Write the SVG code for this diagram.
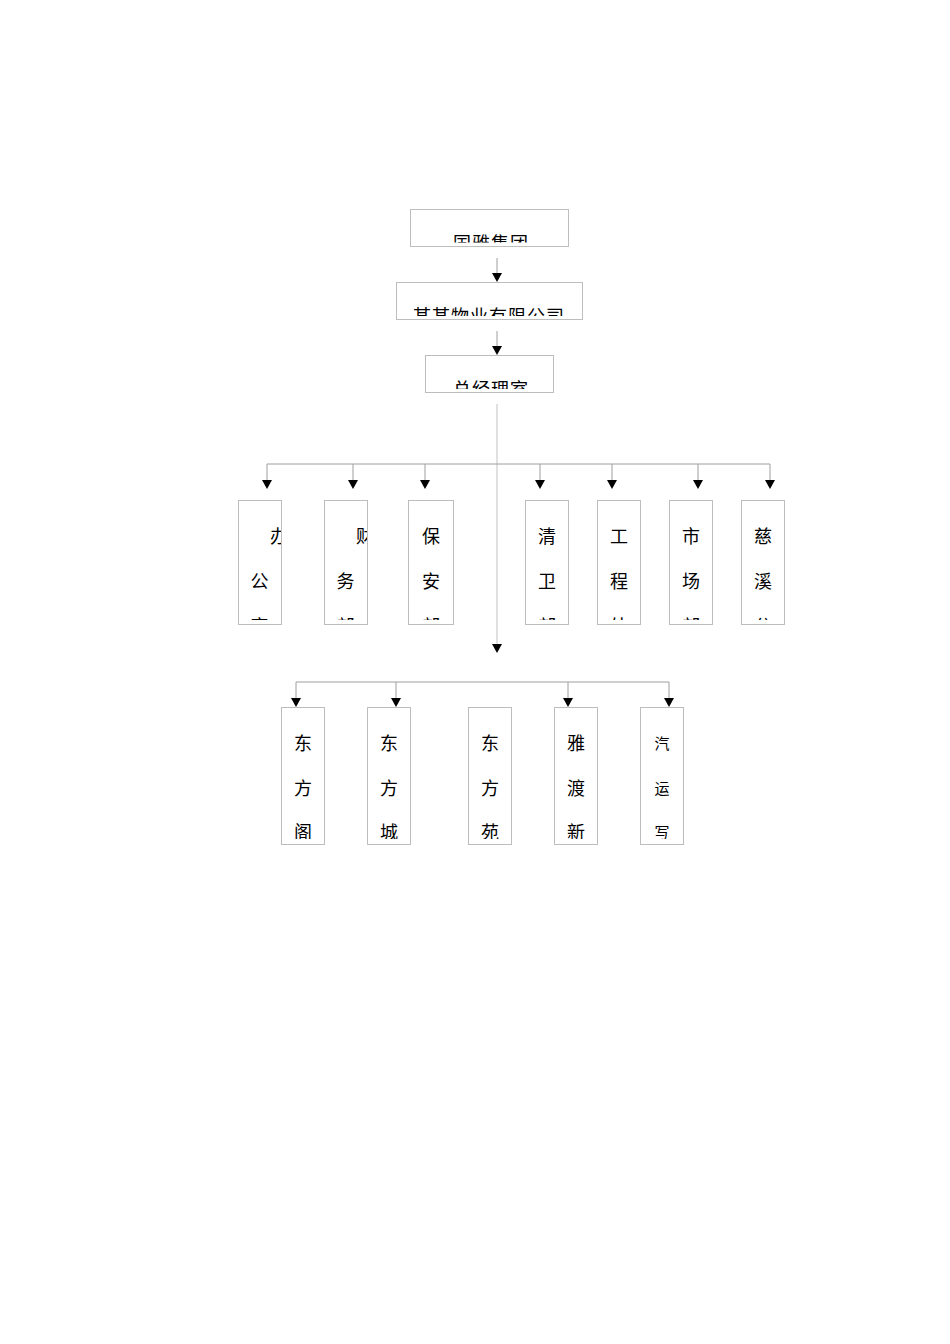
<svg xmlns="http://www.w3.org/2000/svg" width="950" height="1344" viewBox="0 0 950 1344">
<style>
.box{fill:#fff;stroke:#bdbdbd;stroke-width:1}
.t{font-family:"Noto Sans CJK SC","Liberation Sans",sans-serif;font-size:18px;fill:#000}
.h{letter-spacing:1px}
.v{text-anchor:middle}
.s{font-size:15px}
.conn{fill:none;stroke:#9e9e9e;stroke-width:1}
.main{fill:none;stroke:#d6d6d6;stroke-width:1.5}
</style>
<defs>
<path id="tri" d="M-5,-9 L5,-9 L0,0 Z" fill="#000"/>
<clipPath id="c1"><rect x="410" y="209" width="159" height="33.5"/></clipPath>
<clipPath id="c2"><rect x="396" y="282" width="187" height="34"/></clipPath>
<clipPath id="c3"><rect x="425" y="355" width="129" height="34"/></clipPath>
<clipPath id="cv1"><rect x="238" y="500" width="43" height="120"/></clipPath>
<clipPath id="cv2"><rect x="324" y="500" width="43" height="120"/></clipPath>
<clipPath id="cv3"><rect x="408" y="500" width="45" height="120"/></clipPath>
<clipPath id="cv4"><rect x="525" y="500" width="43" height="120"/></clipPath>
<clipPath id="cv5"><rect x="597" y="500" width="43" height="120"/></clipPath>
<clipPath id="cv6"><rect x="669" y="500" width="43" height="120"/></clipPath>
<clipPath id="cv7"><rect x="741" y="500" width="43" height="120"/></clipPath>
<clipPath id="cb"><rect x="0" y="707" width="950" height="132"/></clipPath>
</defs>
<rect width="950" height="1344" fill="#fff"/>

<g id="connectors">
<line class="conn" x1="497" y1="258" x2="497" y2="273"/>
<use href="#tri" x="497" y="282"/>
<line class="conn" x1="497" y1="331" x2="497" y2="346"/>
<use href="#tri" x="497" y="355"/>
<line class="main" x1="497" y1="404" x2="497" y2="644"/>
<use href="#tri" x="497" y="653"/>
<line class="conn" x1="267" y1="464" x2="770" y2="464"/>
<line class="conn" x1="267" y1="464" x2="267" y2="481"/><use href="#tri" x="267" y="489"/>
<line class="conn" x1="353" y1="464" x2="353" y2="481"/><use href="#tri" x="353" y="489"/>
<line class="conn" x1="425" y1="464" x2="425" y2="481"/><use href="#tri" x="425" y="489"/>
<line class="conn" x1="540" y1="464" x2="540" y2="481"/><use href="#tri" x="540" y="489"/>
<line class="conn" x1="612" y1="464" x2="612" y2="481"/><use href="#tri" x="612" y="489"/>
<line class="conn" x1="698" y1="464" x2="698" y2="481"/><use href="#tri" x="698" y="489"/>
<line class="conn" x1="770" y1="464" x2="770" y2="481"/><use href="#tri" x="770" y="489"/>
<line class="conn" x1="296" y1="682" x2="669" y2="682"/>
<line class="conn" x1="296" y1="682" x2="296" y2="699"/><use href="#tri" x="296" y="707"/>
<line class="conn" x1="396" y1="682" x2="396" y2="699"/><use href="#tri" x="396" y="707"/>
<line class="conn" x1="568" y1="682" x2="568" y2="699"/><use href="#tri" x="568" y="707"/>
<line class="conn" x1="669" y1="682" x2="669" y2="699"/><use href="#tri" x="669" y="707"/>
</g>

<g id="n-group">
<rect class="box" x="410.5" y="209.5" width="158" height="37"/>
<text class="t h" x="453" y="250" clip-path="url(#c1)">国雅集团</text>
</g>
<g id="n-company">
<rect class="box" x="396.5" y="282.5" width="186" height="37"/>
<text class="t h" x="413" y="323" clip-path="url(#c2)">某某物业有限公司</text>
</g>
<g id="n-gm">
<rect class="box" x="425.5" y="355.5" width="128" height="37"/>
<text class="t h" x="453" y="396" clip-path="url(#c3)">总经理室</text>
</g>

<g id="n-office">
<rect class="box" x="238.5" y="500.5" width="43" height="124"/>
<g class="t v" clip-path="url(#cv1)"><text x="279" y="543">办</text><text x="259.5" y="588">公</text><text x="259.5" y="633">室</text></g>
</g>
<g id="n-finance">
<rect class="box" x="324.5" y="500.5" width="43" height="124"/>
<g class="t v" clip-path="url(#cv2)"><text x="365" y="543">财</text><text x="345.5" y="588">务</text><text x="345.5" y="633">部</text></g>
</g>
<g id="n-security">
<rect class="box" x="408.5" y="500.5" width="45" height="124"/>
<g class="t v" clip-path="url(#cv3)"><text x="431" y="543">保</text><text x="431" y="588">安</text><text x="431" y="633">部</text></g>
</g>
<g id="n-cleaning">
<rect class="box" x="525.5" y="500.5" width="43" height="124"/>
<g class="t v" clip-path="url(#cv4)"><text x="547" y="543">清</text><text x="547" y="588">卫</text><text x="547" y="633">部</text></g>
</g>
<g id="n-engineering">
<rect class="box" x="597.5" y="500.5" width="43" height="124"/>
<g class="t v" clip-path="url(#cv5)"><text x="619" y="543">工</text><text x="619" y="588">程</text><text x="619" y="633">处</text></g>
</g>
<g id="n-market">
<rect class="box" x="669.5" y="500.5" width="43" height="124"/>
<g class="t v" clip-path="url(#cv6)"><text x="691" y="543">市</text><text x="691" y="588">场</text><text x="691" y="633">部</text></g>
</g>
<g id="n-cixi">
<rect class="box" x="741.5" y="500.5" width="43" height="124"/>
<g class="t v" clip-path="url(#cv7)"><text x="763" y="543">慈</text><text x="763" y="588">溪</text><text x="763" y="633">分</text></g>
</g>

<g id="n-dfg">
<rect class="box" x="281.5" y="707.5" width="43" height="137"/>
<g class="t v" clip-path="url(#cb)"><text x="303" y="750">东</text><text x="303" y="795">方</text><text x="303" y="839">阁</text></g>
</g>
<g id="n-dfc">
<rect class="box" x="367.5" y="707.5" width="43" height="137"/>
<g class="t v" clip-path="url(#cb)"><text x="389" y="750">东</text><text x="389" y="795">方</text><text x="389" y="839">城</text></g>
</g>
<g id="n-dfy">
<rect class="box" x="468.5" y="707.5" width="43" height="137"/>
<g class="t v" clip-path="url(#cb)"><text x="490" y="750">东</text><text x="490" y="795">方</text><text x="490" y="839">苑</text></g>
</g>
<g id="n-ydx">
<rect class="box" x="554.5" y="707.5" width="43" height="137"/>
<g class="t v" clip-path="url(#cb)"><text x="576" y="750">雅</text><text x="576" y="795">渡</text><text x="576" y="839">新</text></g>
</g>
<g id="n-qyx">
<rect class="box" x="640.5" y="707.5" width="43" height="137"/>
<g class="t v s" clip-path="url(#cb)"><text x="662" y="749">汽</text><text x="662" y="794">运</text><text x="662" y="838">写</text></g>
</g>
</svg>
